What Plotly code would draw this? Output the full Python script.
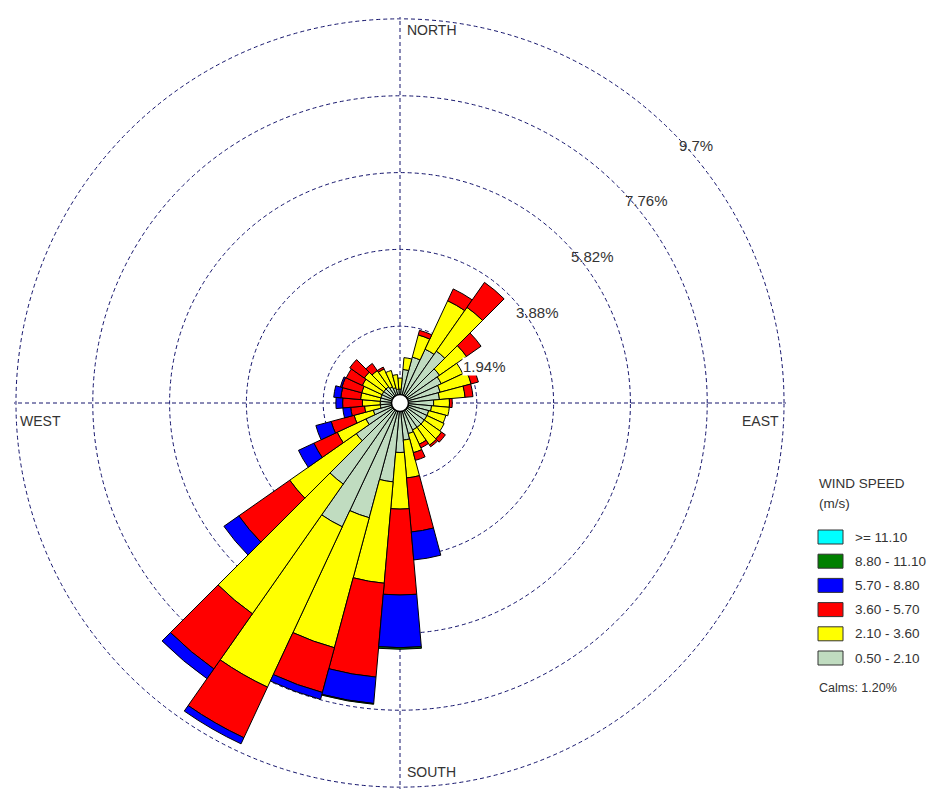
import plotly.graph_objects as go

# Directions (degrees, clockwise from north), 10-degree sectors
directions = [0, 10, 20, 30, 40, 50, 60, 70, 80, 90, 100, 110, 120, 130, 140, 150, 160, 170,
              180, 190, 200, 210, 220, 230, 240, 250, 260, 270, 280, 290, 300, 310, 320, 330, 340, 350]

# Frequency (%) per wind speed class and direction
freq_050_210 = [0.35, 0.85, 1.20, 1.50, 1.60, 1.22, 1.15, 1.05, 1.00, 0.85, 0.80, 0.75, 0.75, 0.75, 0.75, 0.75, 0.80, 0.94,
                1.25, 2.00, 3.00, 3.45, 2.50, 1.35, 0.95, 0.70, 0.50, 0.50, 0.50, 0.50, 0.50, 0.50, 0.50, 0.45, 0.40, 0.35]
freq_210_360 = [0.28, 0.30, 0.58, 1.35, 1.35, 0.83, 0.60, 0.81, 0.65, 0.40, 0.45, 0.45, 0.48, 0.53, 0.55, 0.40, 0.50, 0.96,
                1.43, 2.57, 3.40, 4.47, 4.00, 2.05, 0.80, 0.50, 0.40, 0.45, 0.50, 0.50, 0.55, 0.60, 0.50, 0.50, 0.45, 0.37]
freq_360_570 = [0.00, 0.00, 0.12, 0.33, 0.77, 0.45, 0.00, 0.19, 0.20, 0.07, 0.00, 0.00, 0.00, 0.12, 0.05, 0.10, 0.20, 1.37,
                2.17, 2.38, 1.17, 1.41, 1.70, 1.57, 0.65, 0.60, 0.35, 0.50, 0.50, 0.52, 0.45, 0.45, 0.22, 0.05, 0.00, 0.00]
freq_570_880 = [0.00, 0.00, 0.00, 0.00, 0.00, 0.00, 0.00, 0.00, 0.00, 0.00, 0.00, 0.00, 0.00, 0.00, 0.00, 0.00, 0.00, 0.71,
                1.33, 0.67, 0.18, 0.17, 0.30, 0.46, 0.43, 0.40, 0.20, 0.17, 0.18, 0.04, 0.00, 0.00, 0.00, 0.00, 0.00, 0.00]
freq_880_1110 = [0.00, 0.00, 0.00, 0.00, 0.00, 0.00, 0.00, 0.00, 0.00, 0.00, 0.00, 0.00, 0.00, 0.00, 0.00, 0.00, 0.00, 0.00,
                 0.04, 0.02, 0.00, 0.00, 0.00, 0.00, 0.00, 0.00, 0.00, 0.00, 0.00, 0.00, 0.00, 0.00, 0.00, 0.00, 0.00, 0.00]
freq_1110_up = [0.0] * 36

class_labels = ["0.50 - 2.10", "2.10 - 3.60", "3.60 - 5.70", "5.70 - 8.80", "8.80 - 11.10", ">= 11.10"]
class_colors = ["#C0DCC0", "#FFFF00", "#FF0000", "#0000FF", "#008000", "#00FFFF"]
series = [freq_050_210, freq_210_360, freq_360_570, freq_570_880, freq_880_1110, freq_1110_up]

ring_values = [1.94, 3.88, 5.82, 7.76, 9.7]
ring_labels = ["1.94%", "3.88%", "5.82%", "7.76%", "9.7%"]
calms_text = "Calms: 1.20%"

W, H = 932, 789
GRID = "#14146C"
FONT = "Liberation Sans, Arial, sans-serif"
TXT = "#333333"

fig = go.Figure()
for vals, lab, col in zip(series, class_labels, class_colors):
    fig.add_trace(go.Barpolar(
        r=vals, theta=directions, width=[10] * len(directions), name=lab,
        marker=dict(color=col, line=dict(color="#000000", width=1)),
        showlegend=False, hoverinfo="skip"))

# calm circle
fig.add_trace(go.Scatterpolar(
    r=[0], theta=[0], mode="markers",
    marker=dict(size=17, color="white", line=dict(color="black", width=1.5)),
    showlegend=False, hoverinfo="skip"))

cx, cy, R = 400, 403, 386
fig.update_layout(
    width=W, height=H,
    margin=dict(l=0, r=0, t=0, b=0),
    paper_bgcolor="white", plot_bgcolor="white",
    barmode="stack",
    polar=dict(
        domain=dict(x=[(cx - R) / W, (cx + R) / W], y=[(H - cy - R) / H, (H - cy + R) / H]),
        bgcolor="white",
        bargap=0,
        radialaxis=dict(range=[0, 9.75], tickvals=ring_values, showticklabels=False,
                        ticks="", showline=False, gridcolor=GRID, gridwidth=1,
                        griddash="4px,3px"),
        angularaxis=dict(rotation=90, direction="clockwise", tickvals=[0, 90, 180, 270],
                         showticklabels=False, ticks="", showline=False,
                         gridcolor=GRID, gridwidth=1, griddash="4px,3px"),
    ),
)

def px(x, y):
    return x / W, 1 - y / H

annotations = []
for txt, (x, y) in zip(["NORTH", "EAST", "SOUTH", "WEST"],
                       [(405, 30), (740, 421), (405, 772), (18, 421)]):
    ax, ay = px(x, y)
    annotations.append(dict(text=txt, x=ax, y=ay, xref="paper", yref="paper",
                            xanchor="left", yanchor="middle", showarrow=False,
                            font=dict(family=FONT, size=14, color=TXT)))

ring_pos = [(462, 366), (515, 312), (570, 256), (624, 200), (678, 145)]
for i, (txt, (x, y)) in enumerate(zip(ring_labels, ring_pos)):
    ax, ay = px(x, y)
    annotations.append(dict(text=txt, x=ax, y=ay, xref="paper", yref="paper",
                            xanchor="left", yanchor="middle", showarrow=False,
                            bgcolor="white" if i == 0 else None, borderpad=0,
                            font=dict(family=FONT, size=15, color=TXT)))

for txt, y in [("WIND SPEED", 484), ("(m/s)", 503)]:
    ax, ay = px(817, y)
    annotations.append(dict(text=txt, x=ax, y=ay, xref="paper", yref="paper",
                            xanchor="left", yanchor="middle", showarrow=False,
                            font=dict(family=FONT, size=13.5, color=TXT)))

shapes = []
legend_rows = list(zip(class_labels[::-1], class_colors[::-1]))
for i, (lab, col) in enumerate(legend_rows):
    yc = 537 + i * 24.2
    x0, y0 = px(818, yc - 7)
    x1, y1 = px(843, yc + 7)
    shapes.append(dict(type="rect", xref="paper", yref="paper", x0=x0, x1=x1, y0=y1, y1=y0,
                       fillcolor=col, line=dict(color="#333333", width=1)))
    ax, ay = px(853, yc)
    annotations.append(dict(text=lab, x=ax, y=ay, xref="paper", yref="paper",
                            xanchor="left", yanchor="middle", showarrow=False,
                            font=dict(family=FONT, size=13.5, color=TXT)))

ax, ay = px(817, 688)
annotations.append(dict(text=calms_text, x=ax, y=ay, xref="paper", yref="paper",
                        xanchor="left", yanchor="middle", showarrow=False,
                        font=dict(family=FONT, size=12.5, color=TXT)))

fig.update_layout(annotations=annotations, shapes=shapes)
fig.write_html("out.html")
